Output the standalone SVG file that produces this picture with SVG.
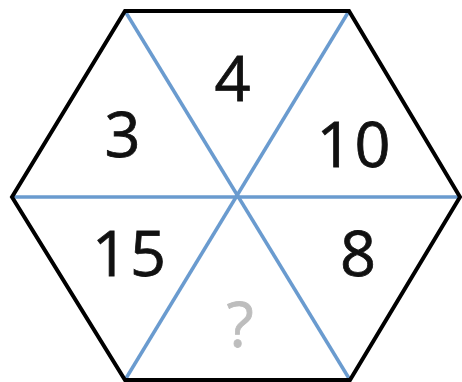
<svg xmlns="http://www.w3.org/2000/svg" width="462" height="382" viewBox="0 0 462 382">
<style>
.hex{fill:none;stroke:#000;stroke-width:4;stroke-linejoin:miter}
.ln{stroke:#6a9bcf;stroke-width:3.5}
.t{font-family:"Open Sans","Liberation Sans",Arial,sans-serif;font-size:63px;fill:#111;stroke:#111;stroke-width:0.8;text-anchor:middle;letter-spacing:2px}
.q{fill:#bdbdbd;stroke:#bdbdbd}
</style>
<rect width="462" height="382" fill="#fff"/>
<g id="connectors">
<line class="ln" x1="125" y1="11" x2="350" y2="380"/>
<line class="ln" x1="349" y1="11" x2="125" y2="380"/>
<line class="ln" x1="12" y1="197" x2="460" y2="197"/>
</g>
<g id="hexagon">
<polygon class="hex" points="125,11 349,11 460,197 350,380 125,380 12,197"/>
</g>
<g id="n4"><text class="t" x="233.5" y="101">4</text></g>
<g id="n3"><text class="t" x="123.5" y="157">3</text></g>
<g id="n10"><text class="t" x="354.5" y="167">10</text></g>
<g id="n15"><text class="t" x="130" y="276">15</text></g>
<g id="n8"><text class="t" x="359" y="276">8</text></g>
<g id="nq"><text class="t q" x="241" y="347">?</text></g>
</svg>
